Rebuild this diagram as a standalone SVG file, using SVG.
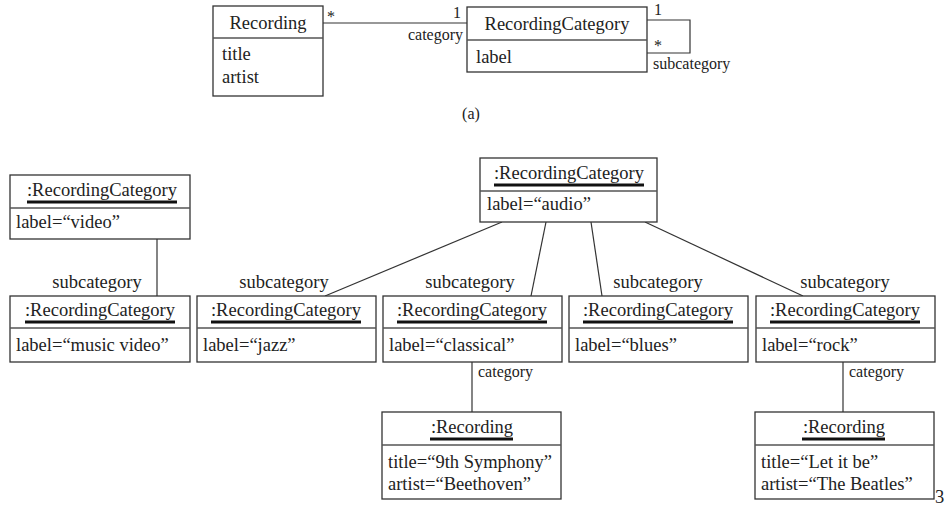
<svg xmlns="http://www.w3.org/2000/svg" width="949" height="512" viewBox="0 0 949 512">
<style>
text{font-family:"Liberation Serif","DejaVu Serif",Tinos,serif;fill:#222}
.t{font-size:18.5px}
.s{font-size:16px}
.c{text-anchor:middle}
.box{fill:#fff;stroke:#333;stroke-width:1.3}
.div{stroke:#555;stroke-width:1.3}
.ul{stroke:#111;stroke-width:3}
.ln{fill:none;stroke:#333;stroke-width:1.2}
</style>
<rect width="949" height="512" fill="#fff"/>
<g font-family="Liberation Serif, DejaVu Serif, serif">
<!-- Class diagram (a) -->
<g id="connectors-a">
<line class="ln" x1="323" y1="23" x2="467" y2="23"/>
<polyline class="ln" points="647,20 690,20 690,53 647,53"/>
<text class="s" x="327" y="22">*</text>
<text class="s" x="453" y="18">1</text>
<text class="s" x="463" y="40" text-anchor="end">category</text>
<text class="s" x="654" y="15">1</text>
<text class="s" x="654" y="51">*</text>
<text class="s" x="653" y="69">subcategory</text>
</g>
<g id="class-recording">
<rect class="box" x="213" y="6" width="110" height="90"/>
<line class="div" x1="213" y1="38" x2="323" y2="38"/>
<text class="t c" x="268" y="29">Recording</text>
<text class="t" x="222" y="60">title</text>
<text class="t" x="222" y="83">artist</text>
</g>
<g id="class-recordingcategory">
<rect class="box" x="467" y="7" width="180" height="65"/>
<line class="div" x1="467" y1="40" x2="647" y2="40"/>
<text class="t c" x="557" y="30">RecordingCategory</text>
<text class="t" x="476" y="63">label</text>
</g>
<text class="s c" x="471" y="119">(a)</text>

<!-- Object diagram -->
<g id="connectors">
<line class="ln" x1="157" y1="239" x2="157" y2="296"/>
<line class="ln" x1="502" y1="222" x2="325" y2="296"/>
<line class="ln" x1="546" y1="222" x2="531" y2="296"/>
<line class="ln" x1="591" y1="222" x2="602" y2="296"/>
<line class="ln" x1="645" y1="222" x2="803" y2="296"/>
<line class="ln" x1="472" y1="362" x2="472" y2="412"/>
<line class="ln" x1="843" y1="362" x2="843" y2="412"/>
<text class="t c" x="97" y="288">subcategory</text>
<text class="t c" x="284" y="288">subcategory</text>
<text class="t c" x="470" y="288">subcategory</text>
<text class="t c" x="658" y="288">subcategory</text>
<text class="t c" x="845" y="288">subcategory</text>
<text class="s" x="478" y="377">category</text>
<text class="s" x="849" y="377">category</text>
</g>

<g id="obj-video">
<rect class="box" x="10" y="175" width="180" height="64"/>
<line class="div" x1="10" y1="208" x2="190" y2="208"/>
<text class="t c" x="102" y="196">:RecordingCategory</text>
<line class="ul" x1="27" y1="202" x2="177" y2="202"/>
<text class="t" x="16" y="228">label=“video”</text>
</g>

<g id="obj-audio">
<rect class="box" x="480" y="158" width="177" height="64"/>
<line class="div" x1="480" y1="191" x2="657" y2="191"/>
<text class="t c" x="569" y="179">:RecordingCategory</text>
<line class="ul" x1="494" y1="185" x2="644" y2="185"/>
<text class="t" x="487" y="210">label=“audio”</text>
</g>

<g id="obj-musicvideo">
<rect class="box" x="10" y="296" width="180" height="66"/>
<line class="div" x1="10" y1="328" x2="190" y2="328"/>
<text class="t c" x="100" y="316">:RecordingCategory</text>
<line class="ul" x1="25" y1="322" x2="175" y2="322"/>
<text class="t" x="16" y="351">label=“music video”</text>
</g>

<g id="obj-jazz">
<rect class="box" x="197" y="296" width="179" height="66"/>
<line class="div" x1="197" y1="328" x2="376" y2="328"/>
<text class="t c" x="286" y="316">:RecordingCategory</text>
<line class="ul" x1="211" y1="322" x2="361" y2="322"/>
<text class="t" x="203" y="351">label=“jazz”</text>
</g>

<g id="obj-classical">
<rect class="box" x="383" y="296" width="179" height="66"/>
<line class="div" x1="383" y1="328" x2="562" y2="328"/>
<text class="t c" x="472" y="316">:RecordingCategory</text>
<line class="ul" x1="397" y1="322" x2="547" y2="322"/>
<text class="t" x="389" y="351">label=“classical”</text>
</g>

<g id="obj-blues">
<rect class="box" x="569" y="296" width="179" height="66"/>
<line class="div" x1="569" y1="328" x2="748" y2="328"/>
<text class="t c" x="658" y="316">:RecordingCategory</text>
<line class="ul" x1="583" y1="322" x2="733" y2="322"/>
<text class="t" x="575" y="351">label=“blues”</text>
</g>

<g id="obj-rock">
<rect class="box" x="756" y="296" width="179" height="66"/>
<line class="div" x1="756" y1="328" x2="935" y2="328"/>
<text class="t c" x="845" y="316">:RecordingCategory</text>
<line class="ul" x1="770" y1="322" x2="920" y2="322"/>
<text class="t" x="762" y="351">label=“rock”</text>
</g>

<g id="obj-beethoven">
<rect class="box" x="382" y="412" width="179" height="87"/>
<line class="div" x1="382" y1="445" x2="561" y2="445"/>
<text class="t c" x="472" y="433">:Recording</text>
<line class="ul" x1="430" y1="439" x2="513" y2="439"/>
<text class="t" x="388" y="468">title=“9th Symphony”</text>
<text class="t" x="388" y="490">artist=“Beethoven”</text>
</g>

<g id="obj-beatles">
<rect class="box" x="755" y="412" width="179" height="87"/>
<line class="div" x1="755" y1="445" x2="934" y2="445"/>
<text class="t c" x="844" y="433">:Recording</text>
<line class="ul" x1="802" y1="439" x2="885" y2="439"/>
<text class="t" x="761" y="468">title=“Let it be”</text>
<text class="t" x="761" y="490">artist=“The Beatles”</text>
</g>

<text class="t" x="935" y="503">3</text>
</g>
</svg>
